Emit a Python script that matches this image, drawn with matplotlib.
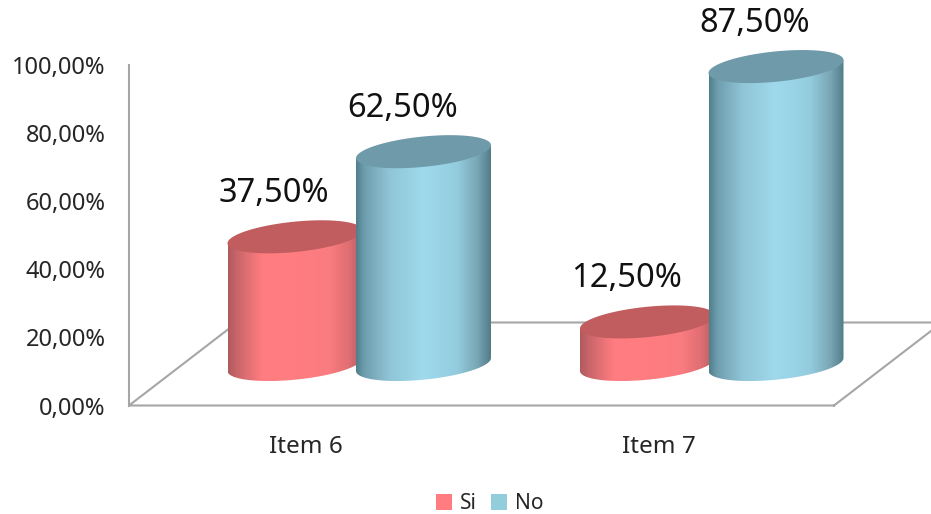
import numpy as np
import matplotlib
matplotlib.use("Agg")
import matplotlib.pyplot as plt
from matplotlib.colors import LinearSegmentedColormap
from matplotlib.patches import Patch, Polygon

plt.rcParams["font.family"] = ["Noto Sans", "DejaVu Sans"]

categories = ["Item 6", "Item 7"]
series_names = ["Si", "No"]
si_values = [37.5, 12.5]
no_values = [62.5, 87.5]
y_ticks = [0, 20, 40, 60, 80, 100]
y_tick_labels = ["0,00%", "20,00%", "40,00%", "60,00%", "80,00%", "100,00%"]


def pct(v):
    return f"{v:.2f}%".replace(".", ",")


W, H = 931, 514
AX_L, AX_R, AX_T, AX_B = 129, 931, 65, 405.5
CAT_PX = 352.5          # pixels between the two categories
CAT0_PX = 306           # pixel position of first category label
Y_PX = (AX_B - AX_T) / 100

fig = plt.figure(figsize=(W / 100, H / 100), dpi=100, facecolor="white")
ax = fig.add_axes([AX_L / W, 1 - AX_B / H, (AX_R - AX_L) / W, (AX_B - AX_T) / H])
XLIM = ((AX_L - CAT0_PX) / CAT_PX, (AX_R - CAT0_PX) / CAT_PX)


def dx(px):
    return px / CAT_PX


def dy(px):
    return px / Y_PX


AXIS_C = "#A6A6A6"
# floor of the 3D box
FLOOR_DX, FLOOR_DY = 108, 83
x_fl, x_fr = XLIM[0], XLIM[0] + dx(705)
floor_x = [x_fr, x_fl, x_fl + dx(FLOOR_DX), x_fr + dx(FLOOR_DX), x_fr]
floor_y = [0, 0, dy(FLOOR_DY), dy(FLOOR_DY), 0]
ax.plot(floor_x, floor_y, color=AXIS_C, lw=1.5, clip_on=False, zorder=1,
        solid_joinstyle="miter")

# cylinders
A, B, S = dx(67.5), dy(15.2), dy(6.5)
BASE = dy(41)
OFFSETS = {"Si": dx(-11), "No": dx(117.5)}
STOPS = [0, 0.06, 0.25, 0.5, 0.75, 0.9, 1]
RED = ["#B05A5D", "#C76568", "#FF7C80", "#FF7D81", "#FA7C80", "#DF6E72", "#B25C5F"]
BLUE = ["#507E8C", "#6E9EAE", "#90C5D7", "#9FDAEC", "#93CCDE", "#7AA6B5", "#527C8A"]
TOP = {"Si": "#C15C5F", "No": "#6F9AA9"}
CMAPS = {"Si": LinearSegmentedColormap.from_list("r", list(zip(STOPS, RED))),
         "No": LinearSegmentedColormap.from_list("b", list(zip(STOPS, BLUE)))}
grad = np.linspace(0, 1, 256)[None, :]


def cylinder(cat, name, val, z):
    cx = cat + OFFSETS[name]
    y0, y1 = BASE, BASE + val
    t = np.linspace(np.pi, 2 * np.pi, 80)
    low_x = cx + A * np.cos(t)
    low_y = y0 + B * np.sin(t) + S * np.cos(t)
    body = np.column_stack([np.r_[low_x, cx + A, cx - A],
                            np.r_[low_y, y1 + S, y1 - S]])
    poly = Polygon(body, closed=True, transform=ax.transData, fc="none", ec="none",
                   clip_on=False)
    ax.add_patch(poly)
    im = ax.imshow(grad, cmap=CMAPS[name], vmin=0, vmax=1, aspect="auto",
                   extent=(cx - A, cx + A, y0 - 2 * B, y1 + 2 * B),
                   zorder=z, interpolation="bilinear")
    im.set_clip_box(fig.bbox)
    im.set_clip_path(poly)
    t2 = np.linspace(0, 2 * np.pi, 160)
    ax.fill(cx + A * np.cos(t2), y1 + B * np.sin(t2) + S * np.cos(t2),
            color=TOP[name], lw=0, zorder=z + 0.1, clip_on=False)
    ax.annotate(pct(val), (cx, y1), xytext=(-21 * 0.72, 43.5 * 0.72),
                textcoords="offset points", ha="center", va="center",
                fontsize=23.5, color="#111111", zorder=10, annotation_clip=False)


for i, c in enumerate(categories):
    cylinder(i, "Si", si_values[i], 3 + i * 2)
    cylinder(i, "No", no_values[i], 4 + i * 2)

ax.set_xlim(*XLIM)
ax.set_ylim(0, 100)
ax.set_xticks(range(len(categories)), categories)
ax.set_yticks(y_ticks, y_tick_labels)
ax.tick_params(axis="y", length=0, pad=17, labelsize=17, labelcolor="#262626")
ax.tick_params(axis="x", length=0, pad=21.5, labelsize=17.5, labelcolor="#262626")
for s in ["top", "right", "bottom"]:
    ax.spines[s].set_visible(False)
ax.spines["left"].set_color(AXIS_C)
ax.spines["left"].set_linewidth(1.5)
ax.patch.set_alpha(0)

handles = [Patch(fc="#FF7C80", ec="none"), Patch(fc="#92CDDC", ec="none")]
fig.legend(handles, series_names, loc="center", bbox_to_anchor=(489.5 / W, 1 - 503.5 / H),
           ncol=2, frameon=False, fontsize=15, handlelength=0.78, handleheight=0.78,
           handletextpad=0.35, columnspacing=0.7, labelcolor="#262626",
           borderpad=0, borderaxespad=0)

fig.savefig("out.png", dpi=100, facecolor="white")
